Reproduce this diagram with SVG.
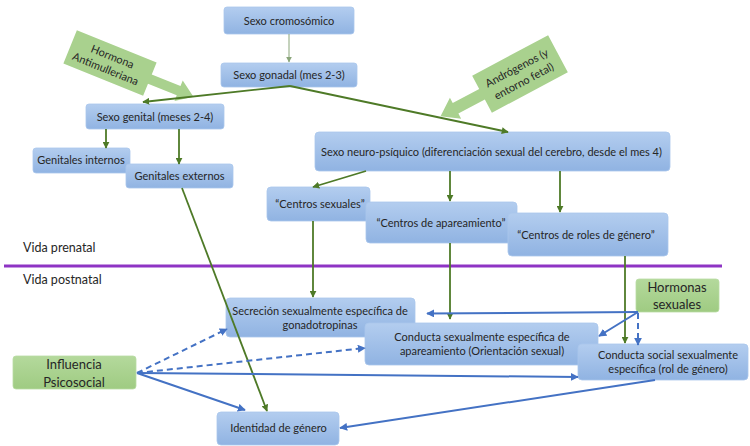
<svg xmlns="http://www.w3.org/2000/svg" width="750" height="446" viewBox="0 0 750 446">
<defs>
<linearGradient id="gb" x1="0" y1="0" x2="0" y2="1">
<stop offset="0" stop-color="#b3cdef"/>
<stop offset="1" stop-color="#90b3e2"/>
</linearGradient>
<linearGradient id="gg" x1="0" y1="0" x2="0" y2="1">
<stop offset="0" stop-color="#b4d99c"/>
<stop offset="1" stop-color="#9fcb82"/>
</linearGradient>
<marker id="ag" viewBox="0 0 10 10" refX="9" refY="5" markerWidth="7" markerHeight="7" markerUnits="userSpaceOnUse" orient="auto">
<path d="M0,0 L10,5 L0,10 z" fill="#4e7a27"/>
</marker>
<marker id="agl" viewBox="0 0 10 10" refX="9" refY="5" markerWidth="6" markerHeight="6" markerUnits="userSpaceOnUse" orient="auto">
<path d="M0,0 L10,5 L0,10 z" fill="#8aa57a"/>
</marker>
<marker id="ab" viewBox="0 0 10 10" refX="9" refY="5" markerWidth="8" markerHeight="8" markerUnits="userSpaceOnUse" orient="auto">
<path d="M0,0 L10,5 L0,10 z" fill="#4472c4"/>
</marker>
</defs>
<style>
.n{fill:url(#gb);stroke:#a9c6ec;stroke-width:0.8}
.g{fill:url(#gg);stroke:#b9dca3;stroke-width:0.8}
.c{fill:#a9d18e}
.t{font-family:Lato,"Open Sans",sans-serif;font-size:11px;fill:#262626;text-anchor:middle}
.tg{font-family:Lato,"Open Sans",sans-serif;font-size:13px;fill:#262626;text-anchor:middle}
.tl{font-family:Lato,"Open Sans",sans-serif;font-size:12.5px;fill:#262626}
.lg{fill:none;stroke:#4e7a27;stroke-width:1.8;marker-end:url(#ag)}
.lb{fill:none;stroke:#4472c4;stroke-width:2;marker-end:url(#ab)}
.d{stroke-dasharray:6 4}
</style>

<line x1="4" y1="266" x2="722" y2="266" stroke="#8e34c4" stroke-width="3"/>
<text class="tl" x="23" y="252">Vida prenatal</text>
<text class="tl" x="23" y="284">Vida postnatal</text>

<g id="callout-hormona" transform="translate(110,63) rotate(22)">
<path class="c" d="M-43,-18 L43,-18 L43,-5 L74,-5 L74,-11 L90,0 L74,11 L74,5 L43,5 L43,18 L-43,18 z"/>
<text class="t" x="0" y="-3" fill="#333">Hormona</text>
<text class="t" x="-2" y="11" fill="#333">Antimulleriana</text>
</g>
<g id="callout-androgenos" transform="translate(520,74) rotate(-28)">
<path class="c" d="M43,-21 L-43,-21 L-43,-6 L-73,-6 L-73,-12 L-90,0 L-73,12 L-73,6 L-43,6 L-43,21 L43,21 z"/>
<text class="t" x="0" y="-3">Andrógenos (y</text>
<text class="t" x="0" y="12">entorno fetal)</text>
</g>

<g id="nodes">
<g id="sexo-cromosomico"><rect class="n" x="224" y="7" width="130" height="27" rx="3"/><text class="t" x="289" y="24.5">Sexo cromosómico</text></g>
<g id="sexo-gonadal"><rect class="n" x="221" y="63" width="136" height="24" rx="3"/><text class="t" x="289" y="79">Sexo gonadal (mes 2-3)</text></g>
<g id="sexo-genital"><rect class="n" x="86" y="104" width="138" height="25" rx="3"/><text class="t" x="155" y="120.5">Sexo genital (meses 2-4)</text></g>
<g id="genitales-internos"><rect class="n" x="33" y="148" width="97" height="25" rx="3"/><text class="t" x="81" y="164">Genitales internos</text></g>
<g id="genitales-externos"><rect class="n" x="126" y="164" width="107" height="24" rx="3"/><text class="t" x="179.5" y="180">Genitales externos</text></g>
<g id="sexo-neuro"><rect class="n" x="315" y="132" width="355" height="39" rx="4"/><text class="t" x="491.5" y="156">Sexo neuro-psíquico (diferenciación sexual del cerebro, desde el mes 4)</text></g>
<g id="centros-sexuales"><rect class="n" x="267" y="187" width="103" height="34" rx="4"/><text class="t" x="320" y="208">“Centros sexuales”</text></g>
<g id="centros-apareamiento"><rect class="n" x="366" y="202" width="151" height="41" rx="4"/><text class="t" x="441" y="227">“Centros de apareamiento”</text></g>
<g id="centros-roles"><rect class="n" x="508" y="213" width="160" height="43" rx="4"/><text class="t" x="586" y="239">“Centros de roles de género”</text></g>
<g id="secrecion"><rect class="n" x="226" y="298" width="189" height="39" rx="4"/><text class="t" x="320" y="315">Secreción sexualmente específica de</text><text class="t" x="320" y="329">gonadotropinas</text></g>
<g id="conducta-apareamiento"><rect class="n" x="365" y="323" width="233" height="42" rx="4"/><text class="t" x="482" y="341">Conducta sexualmente específica de</text><text class="t" x="482" y="355">apareamiento (Orientación sexual)</text></g>
<g id="conducta-social"><rect class="n" x="578" y="344" width="170" height="36" rx="4"/><text class="t" x="668" y="359">Conducta social sexualmente</text><text class="t" x="668" y="373">específica (rol de género)</text></g>
<g id="identidad"><rect class="n" x="217" y="412" width="122" height="33" rx="4"/><text class="t" x="278.5" y="432">Identidad de género</text></g>
<g id="hormonas-sexuales"><rect class="g" x="636" y="279" width="83" height="33" rx="3"/><text class="tg" x="677" y="292">Hormonas</text><text class="tg" x="677" y="309">sexuales</text></g>
<g id="influencia"><rect class="g" x="13" y="356" width="123" height="33" rx="3"/><text class="tg" x="74" y="369">Influencia</text><text class="tg" x="74" y="387">Psicosocial</text></g>
</g>

<g id="connectors">
<line x1="289" y1="34" x2="289" y2="62" stroke="#8aa57a" stroke-width="1" marker-end="url(#agl)"/>
<line class="lg" x1="290" y1="86" x2="143" y2="102"/>
<line class="lg" x1="290" y1="86" x2="508" y2="132"/>
<line class="lg" x1="106" y1="129" x2="106" y2="148"/>
<line class="lg" x1="179" y1="129" x2="179" y2="164"/>
<line class="lg" x1="182" y1="188" x2="267" y2="411"/>
<line class="lg" x1="366" y1="171" x2="313" y2="187"/>
<line class="lg" x1="450" y1="171" x2="450" y2="201"/>
<line class="lg" x1="560" y1="171" x2="560" y2="212"/>
<line class="lg" x1="313" y1="221" x2="313" y2="297"/>
<line class="lg" x1="450" y1="243" x2="450" y2="319"/>
<line class="lg" x1="625" y1="256" x2="625" y2="343"/>
<line class="lb" x1="638" y1="312" x2="427" y2="313.5"/>
<line class="lb" x1="638" y1="312" x2="599" y2="336"/>
<line class="lb d" x1="638" y1="313" x2="638" y2="345"/>
<line class="lb d" x1="137" y1="373" x2="227" y2="329"/>
<line class="lb d" x1="137" y1="373" x2="365" y2="348"/>
<line class="lb" x1="137" y1="373" x2="578" y2="377"/>
<line class="lb" x1="137" y1="373" x2="245" y2="410"/>
<line class="lb" x1="655" y1="380" x2="340" y2="428"/>
</g>
</svg>
